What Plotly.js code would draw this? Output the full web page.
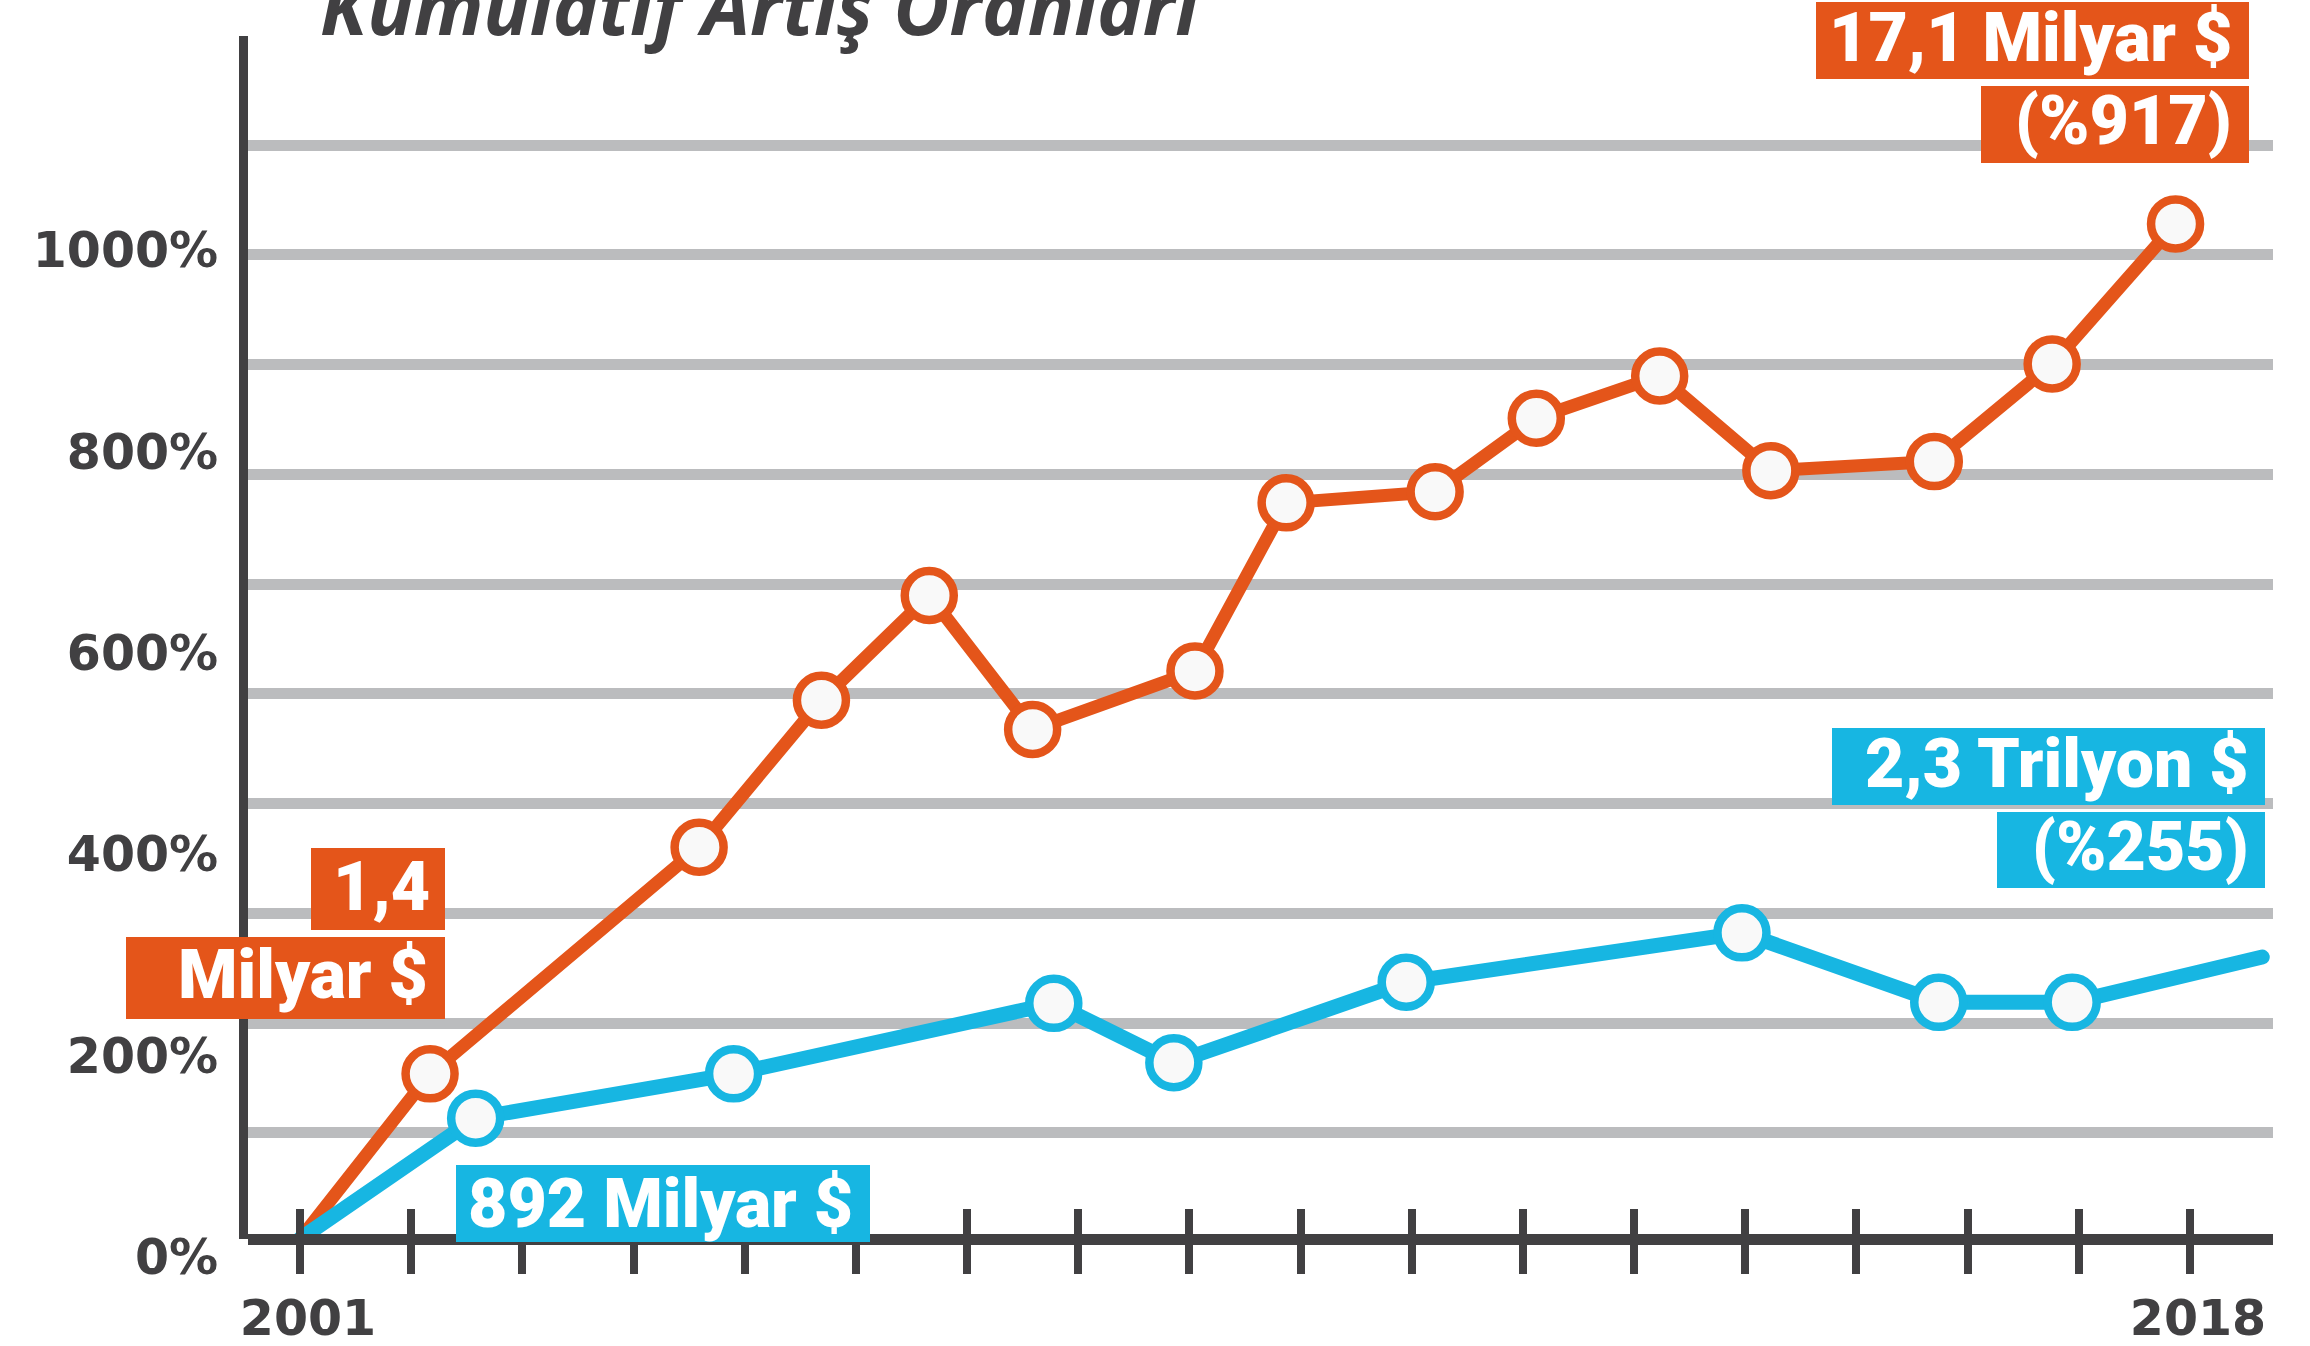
<!DOCTYPE html>
<html>
<head>
<meta charset="utf-8">
<script src="https://cdn.plot.ly/plotly-3.0.1.min.js"></script>
<style>
html,body{margin:0;padding:0;background:#ffffff;}
#chart{width:2310px;height:1346px;}
.scatterlayer .js-line{stroke-linecap:round !important;stroke-linejoin:round !important;}
</style>
</head>
<body>
<div id="chart"></div>
<script>
// ---------------- DATA ----------------
const orangeYears  = [2001.00, 2002.17, 2004.59, 2005.69, 2006.66, 2007.59, 2009.05, 2009.87, 2011.21, 2012.12, 2013.23, 2014.23, 2015.70, 2016.76, 2017.87];
const orangeValues = [0, 164, 389, 535, 639, 506, 564, 731, 742, 815, 857, 763, 772, 869, 1008];

const blueYears  = [2001.00, 2002.58, 2004.90, 2007.78, 2008.86, 2010.95, 2013.97, 2015.74, 2016.94, 2018.65];
const blueValues = [0, 120, 164, 234, 175, 255, 304, 235, 235, 280];

const xTickYears  = [2001, 2002, 2003, 2004, 2005, 2006, 2007, 2008, 2009, 2010, 2011, 2012, 2013, 2014, 2015, 2016, 2017, 2018];
const xTickLabels = ['2001', '', '', '', '', '', '', '', '', '', '', '', '', '', '', '', '', '2018'];

const yTickValues = [0, 200, 400, 600, 800, 1000];
const yTickLabels = ['0%', '200%', '400%', '600%', '800%', '1000%'];

const titleText = 'Kümülatif Artış Oranları';
const calloutTexts = ['17,1 Milyar $', '(%917)', '2,3 Trilyon $', '(%255)', '1,4', 'Milyar $', '892 Milyar $'];

// ---------------- STYLE ----------------
const ORANGE = '#E4551A';
const BLUE = '#17B6E2';
const DARK = '#414042';
const GRID = '#BBBCBE';
const FILL = '#F9F9F9';

const W = 2310, H = 1346;
const plotL = 248, plotR = 2273, plotT = 36, plotB = 1239;
const px2x = p => (p - plotL) / (plotR - plotL);
const px2y = p => (plotB - p) / (plotB - plotT);

const xRange = [2000.5323, 2018.7465];
const yRange = [0, 1194.6];

// gridline positions (style): evenly spaced bands
const gridStart = 105.3, gridStep = 109.0;
const gridVals = [];
for (let k = 0; k < 10; k++) gridVals.push(gridStart + k * gridStep);

// callout box geometry in pixels [left, top, right, bottom, textRight, textMid, color]
const calloutGeom = [
  [1816, 2, 2249, 79, 2234, 38, ORANGE],
  [1981, 86, 2249, 163, 2234, 121, ORANGE],
  [1832, 728, 2265, 805, 2251, 764, BLUE],
  [1997, 812, 2265, 888, 2251, 847, BLUE],
  [311, 848, 445, 930, 432, 887, ORANGE],
  [126, 937, 445, 1019, 430, 975, ORANGE],
  [456, 1165, 870, 1242, 855, 1204, BLUE]
];

function markerArrays(n, hidden, color) {
  const fills = [], strokes = [];
  for (let i = 0; i < n; i++) {
    const h = hidden.indexOf(i) >= 0;
    fills.push(h ? 'rgba(0,0,0,0)' : FILL);
    strokes.push(h ? 'rgba(0,0,0,0)' : color);
  }
  return {fills, strokes};
}

const om = markerArrays(orangeYears.length, [0], ORANGE);
const bm = markerArrays(blueYears.length, [0, blueYears.length - 1], BLUE);

const traces = [
  {
    x: orangeYears, y: orangeValues, type: 'scatter', mode: 'lines+markers',
    line: {color: ORANGE, width: 13},
    marker: {size: 49, color: om.fills, line: {color: om.strokes, width: 8.5}},
    cliponaxis: false, hoverinfo: 'skip'
  },
  {
    x: blueYears, y: blueValues, type: 'scatter', mode: 'lines+markers',
    line: {color: BLUE, width: 15},
    marker: {size: 49, color: bm.fills, line: {color: bm.strokes, width: 8.5}},
    cliponaxis: false, hoverinfo: 'skip'
  },
  {x: [], y: [], xaxis: 'x2', yaxis: 'y2', type: 'scatter', mode: 'lines', hoverinfo: 'skip'}
];

const shapes = calloutGeom.map(g => ({
  type: 'rect', xref: 'paper', yref: 'paper', layer: 'above',
  x0: px2x(g[0]), x1: px2x(g[2]), y0: px2y(g[3]), y1: px2y(g[1]),
  fillcolor: g[6], line: {width: 0}
}));

const annotations = calloutTexts.map((t, i) => ({
  text: t, xref: 'paper', yref: 'paper', showarrow: false,
  x: px2x(calloutGeom[i][4]), y: px2y(calloutGeom[i][5]),
  xanchor: 'right', yanchor: 'middle',
  font: {family: 'Roboto, Lato, sans-serif', size: 68, color: '#FFFFFF', weight: 900}
}));

annotations.push({
  text: titleText, xref: 'paper', yref: 'paper', showarrow: false,
  x: px2x(318), y: px2y(60), xanchor: 'left', yanchor: 'bottom',
  font: {family: '"Open Sans", sans-serif', size: 77, color: DARK, weight: 700, style: 'italic'}
});

const tickFont = {family: '"DejaVu Sans", sans-serif', size: 49, color: DARK, weight: 700};

const layout = {
  width: W, height: H,
  margin: {l: plotL, r: W - plotR, t: plotT, b: H - plotB, pad: 0},
  paper_bgcolor: '#FFFFFF', plot_bgcolor: 'rgba(0,0,0,0)',
  showlegend: false, hovermode: false,
  xaxis: {
    range: xRange, anchor: 'free', position: 0,
    showline: true, linewidth: 11, linecolor: DARK,
    showgrid: false, zeroline: false,
    tickmode: 'array', tickvals: xTickYears, ticktext: xTickLabels,
    ticks: 'outside', ticklen: 29, tickwidth: 8, tickcolor: DARK,
    tickfont: tickFont, ticklabelstandoff: 2, ticklabelshift: 8, fixedrange: true
  },
  xaxis2: {
    range: xRange, overlaying: 'x', anchor: 'free', position: 0,
    showline: true, linewidth: 11, linecolor: DARK,
    showgrid: false, zeroline: false,
    tickmode: 'array', tickvals: xTickYears,
    ticks: 'inside', ticklen: 25, tickwidth: 8, tickcolor: DARK,
    showticklabels: false, fixedrange: true
  },
  yaxis: {
    range: yRange, showline: true, linewidth: 9, linecolor: DARK,
    showgrid: false, zeroline: false,
    tickmode: 'array', tickvals: yTickValues, ticktext: yTickLabels,
    ticks: '', tickfont: tickFont, ticklabelshift: 18, ticklabelstandoff: 11, fixedrange: true
  },
  yaxis2: {
    range: yRange, overlaying: 'y', anchor: 'x',
    showline: false, showgrid: true, gridcolor: GRID, gridwidth: 11,
    zeroline: false, tickmode: 'array', tickvals: gridVals,
    ticks: '', showticklabels: false, fixedrange: true
  },
  shapes: shapes,
  annotations: annotations
};

Plotly.newPlot('chart', traces, layout, {displayModeBar: false, staticPlot: true});
</script>
</body>
</html>
